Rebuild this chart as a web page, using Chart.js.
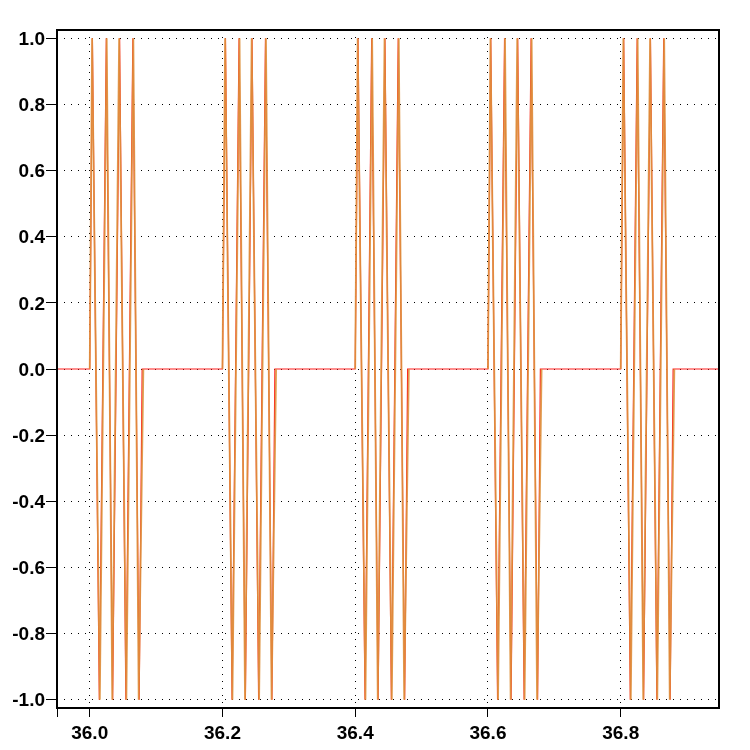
<!DOCTYPE html>
<html>
<head>
<meta charset="utf-8">
<script src="https://cdn.jsdelivr.net/npm/chart.js@4.4.1/dist/chart.umd.min.js"></script>
<style>
  html, body { margin: 0; padding: 0; background: #ffffff; }
  #c { display: block; }
</style>
</head>
<body>
<canvas id="c" width="750" height="750"></canvas>
<script>
// ---- data ----
const X_MIN = 35.9507;
const X_MAX = 36.9481;
const Y_MIN = -1.025;
const Y_MAX = 1.025;

const X_TICKS = [36.0, 36.2, 36.4, 36.6, 36.8];
const X_TICK_LABELS = ['36.0', '36.2', '36.4', '36.6', '36.8'];
const Y_TICKS = [-1.0, -0.8, -0.6, -0.4, -0.2, 0.0, 0.2, 0.4, 0.6, 0.8, 1.0];
const Y_TICK_LABELS = ['-1.0', '-0.8', '-0.6', '-0.4', '-0.2', '0.0', '0.2', '0.4', '0.6', '0.8', '1.0'];

// red series (time, value)
const RED_T = [
  35.9507,
  36.0000, 36.0040, 36.0145, 36.0250, 36.0345, 36.0450, 36.0545, 36.0650, 36.0745, 36.0790,
  36.2000, 36.2045, 36.2145, 36.2250, 36.2345, 36.2445, 36.2545, 36.2648, 36.2745, 36.2790,
  36.4000, 36.4042, 36.4148, 36.4248, 36.4345, 36.4448, 36.4545, 36.4648, 36.4745, 36.4790,
  36.6000, 36.6042, 36.6145, 36.6250, 36.6348, 36.6448, 36.6545, 36.6650, 36.6748, 36.6790,
  36.8000, 36.8045, 36.8145, 36.8248, 36.8345, 36.8448, 36.8545, 36.8648, 36.8745, 36.8790,
  36.9481
];
const RED_V = [
  0,
  0, 1, -1, 1, -1, 1, -1, 1, -1, 0,
  0, 1, -1, 1, -1, 1, -1, 1, -1, 0,
  0, 1, -1, 1, -1, 1, -1, 1, -1, 0,
  0, 1, -1, 1, -1, 1, -1, 1, -1, 0,
  0, 1, -1, 1, -1, 1, -1, 1, -1, 0,
  0
];

// orange series (only during the bursts; null = gap)
const ORANGE_T = [
  36.0000, 36.0036, 36.0152, 36.0256, 36.0340, 36.0443, 36.0552, 36.0657, 36.0738, 36.0808, 36.1000,
  36.2000, 36.2040, 36.2150, 36.2257, 36.2340, 36.2440, 36.2552, 36.2655, 36.2740, 36.2808, 36.3000,
  36.4000, 36.4037, 36.4154, 36.4255, 36.4340, 36.4442, 36.4551, 36.4656, 36.4738, 36.4808, 36.5000,
  36.6000, 36.6038, 36.6152, 36.6257, 36.6342, 36.6441, 36.6552, 36.6658, 36.6740, 36.6808, 36.7000,
  36.8000, 36.8040, 36.8152, 36.8255, 36.8340, 36.8443, 36.8551, 36.8655, 36.8739, 36.8808
];
const ORANGE_V = [
  0, 1, -1, 1, -1, 1, -1, 1, -1, 0, null,
  0, 1, -1, 1, -1, 1, -1, 1, -1, 0, null,
  0, 1, -1, 1, -1, 1, -1, 1, -1, 0, null,
  0, 1, -1, 1, -1, 1, -1, 1, -1, 0, null,
  0, 1, -1, 1, -1, 1, -1, 1, -1, 0
];

// ---- chart ----
const toPoints = (ts, vs) => ts.map((t, i) => ({ x: t, y: vs[i] }));

const frameBox = {
  id: 'frameBox',
  afterDraw(chart) {
    const { ctx, chartArea: a } = chart;
    ctx.save();
    ctx.strokeStyle = '#000000';
    ctx.lineWidth = 2;
    ctx.strokeRect(a.left, a.top, a.right - a.left, a.bottom - a.top);
    ctx.restore();
  }
};

const whiteBg = {
  id: 'whiteBg',
  beforeDraw(chart) {
    const { ctx, width, height } = chart;
    ctx.save();
    ctx.fillStyle = '#ffffff';
    ctx.fillRect(0, 0, width, height);
    ctx.restore();
  }
};

const tickFont = { family: "'Liberation Sans', Arial, sans-serif", size: 19, weight: 'bold' };

new Chart(document.getElementById('c'), {
  type: 'line',
  data: {
    datasets: [
      {
        label: 'orange',
        data: toPoints(ORANGE_T, ORANGE_V),
        borderColor: 'rgba(222,146,62,0.9)',
        borderWidth: 1.8,
        pointRadius: 0,
        tension: 0,
        spanGaps: false,
        order: 0
      },
      {
        label: 'red',
        data: toPoints(RED_T, RED_V),
        borderColor: 'rgb(255,30,30)',
        borderWidth: 1.2,
        pointRadius: 0,
        tension: 0,
        order: 1
      }
    ]
  },
  options: {
    responsive: false,
    animation: false,
    events: [],
    layout: { padding: { top: 30, right: 31, left: 0, bottom: 0 } },
    plugins: { legend: { display: false }, tooltip: { enabled: false } },
    scales: {
      x: {
        type: 'linear',
        position: 'bottom',
        min: X_MIN,
        max: X_MAX,
        afterBuildTicks: (s) => {
          s.ticks = [{ value: X_MIN }].concat(X_TICKS.map(v => ({ value: v })));
        },
        afterFit: (s) => { s.height = 42; },
        ticks: {
          autoSkip: false,
          maxRotation: 0,
          color: '#000000',
          font: tickFont,
          padding: 5,
          callback: (v) => {
            const i = X_TICKS.findIndex(t => Math.abs(t - v) < 1e-6);
            return i >= 0 ? X_TICK_LABELS[i] : '';
          }
        },
        grid: {
          color: '#000000',
          lineWidth: 1,
          drawTicks: true,
          tickLength: 9,
          tickColor: '#000000',
          tickWidth: 1,
          tickBorderDash: []
        },
        border: { display: false, dash: [1, 6] }
      },
      y: {
        type: 'linear',
        min: Y_MIN,
        max: Y_MAX,
        afterBuildTicks: (s) => {
          s.ticks = Y_TICKS.map(v => ({ value: v }));
        },
        afterFit: (s) => { s.width = 57; },
        ticks: {
          autoSkip: false,
          color: '#000000',
          font: tickFont,
          padding: 1,
          labelOffset: 1.5,
          callback: (v) => {
            const i = Y_TICKS.findIndex(t => Math.abs(t - v) < 1e-6);
            return i >= 0 ? Y_TICK_LABELS[i] : '';
          }
        },
        grid: {
          color: '#000000',
          lineWidth: 1,
          drawTicks: true,
          tickLength: 11,
          tickColor: '#000000',
          tickWidth: 1,
          tickBorderDash: []
        },
        border: { display: false, dash: [1, 6] }
      }
    }
  },
  plugins: [whiteBg, frameBox]
});
</script>
</body>
</html>
